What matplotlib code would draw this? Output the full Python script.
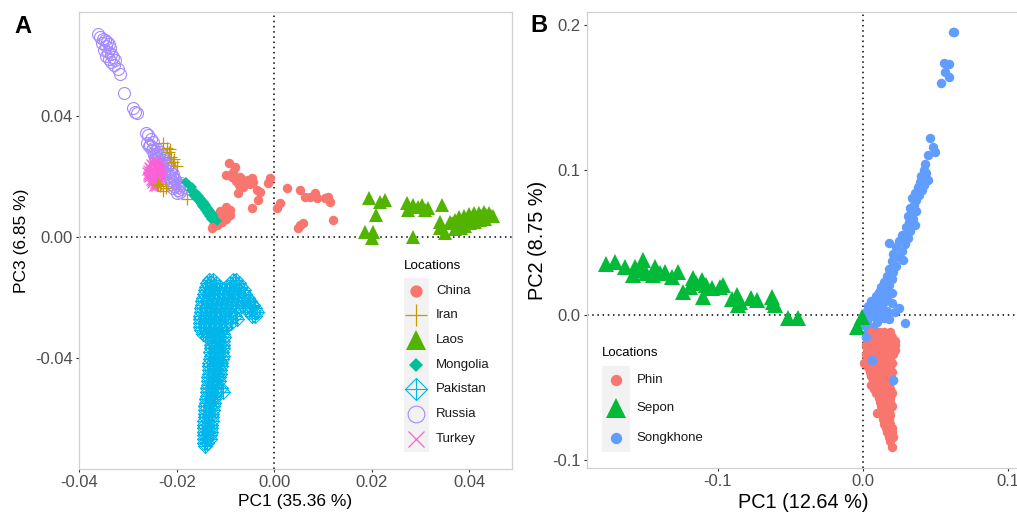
import numpy as np
import matplotlib
matplotlib.use('Agg')
import matplotlib.pyplot as plt
from matplotlib.patches import Rectangle

plt.rcParams['font.family'] = ['Liberation Sans', 'DejaVu Sans']

# ---------------- Panel A data (PC1 vs PC3) ----------------
a_locations = ['China', 'Iran', 'Laos', 'Mongolia', 'Pakistan', 'Russia', 'Turkey']

china_pts = [
    (-0.0094, 0.0245), (-0.0080, 0.0231), (-0.0100, 0.0205), (-0.0086, 0.0198), (-0.0070, 0.0198),
    (-0.0064, 0.0188), (-0.0045, 0.0195), (-0.0043, 0.0182), (-0.0064, 0.0165), (-0.0074, 0.0145),
    (-0.0035, 0.0155), (-0.0029, 0.0149), (-0.0008, 0.0195), (-0.0012, 0.0179), (-0.0033, 0.0122),
    (-0.0045, 0.0096), (0.0027, 0.0162), (0.0053, 0.0155), (0.0064, 0.0132), (0.0074, 0.0132),
    (0.0084, 0.0145), (0.0088, 0.0129), (0.0105, 0.0129), (0.0111, 0.0132), (0.0115, 0.0116),
    (0.0121, 0.0056), (0.0012, 0.0112), (0.0006, 0.0096), (0.0053, 0.0040), (0.0059, 0.0046),
    (0.0049, 0.0030), (-0.0100, 0.0099), (-0.0094, 0.0083), (-0.0090, 0.0073), (-0.0121, 0.0046),
    (-0.0111, 0.0063), (-0.0125, 0.0035), (-0.0118, 0.0040), (-0.0108, 0.0050), (-0.0100, 0.0060),
    (-0.0095, 0.0070), (-0.0105, 0.0075), (-0.0112, 0.0085), (-0.0090, 0.0090), (-0.0127, 0.0030),
    (-0.0085, 0.0215), (-0.0055, 0.0190), (-0.0072, 0.0172), (-0.0050, 0.0175), (-0.0078, 0.0185),
]

iran_pts = [
    (-0.0228, 0.0311), (-0.0221, 0.0294), (-0.0217, 0.0281), (-0.0213, 0.0264), (-0.0207, 0.0248),
    (-0.0199, 0.0235), (-0.0234, 0.0169), (-0.0228, 0.0152), (-0.0223, 0.0162), (-0.0240, 0.0172),
    (-0.0238, 0.0175), (-0.0180, 0.0126), (-0.0215, 0.0290), (-0.0205, 0.0258),
]

laos_pts = [
    (0.0195, 0.0129), (0.0217, 0.0116), (0.0228, 0.0122), (0.0209, 0.0073), (0.0187, 0.0017),
    (0.0203, 0.0017), (0.0201, -0.0003), (0.0273, 0.0112), (0.0285, 0.0106), (0.0303, 0.0106),
    (0.0316, 0.0096), (0.0275, 0.0089), (0.0344, 0.0106), (0.0340, 0.0050), (0.0361, 0.0050),
    (0.0340, 0.0030), (0.0285, 0.0000), (0.0351, 0.0013), (0.0371, 0.0055), (0.0377, 0.0040),
    (0.0380, 0.0065), (0.0386, 0.0050), (0.0390, 0.0070), (0.0395, 0.0055), (0.0400, 0.0075),
    (0.0405, 0.0060), (0.0410, 0.0080), (0.0415, 0.0065), (0.0420, 0.0078), (0.0425, 0.0070),
    (0.0430, 0.0082), (0.0435, 0.0072), (0.0440, 0.0078), (0.0445, 0.0068), (0.0450, 0.0070),
    (0.0383, 0.0030), (0.0392, 0.0038), (0.0402, 0.0045), (0.0412, 0.0050), (0.0422, 0.0055),
    (0.0432, 0.0060), (0.0370, 0.0025), (0.0365, 0.0045), (0.0295, 0.0100), (0.0310, 0.0090),
]

mongolia_pts = [
    (-0.0182, 0.0182), (-0.0176, 0.0172), (-0.0170, 0.0165), (-0.0172, 0.0155), (-0.0165, 0.0150),
    (-0.0160, 0.0145), (-0.0166, 0.0140), (-0.0155, 0.0135), (-0.0160, 0.0128), (-0.0150, 0.0125),
    (-0.0155, 0.0118), (-0.0145, 0.0115), (-0.0150, 0.0108), (-0.0140, 0.0105), (-0.0146, 0.0098),
    (-0.0136, 0.0095), (-0.0142, 0.0088), (-0.0132, 0.0085), (-0.0138, 0.0078), (-0.0128, 0.0078),
    (-0.0134, 0.0070), (-0.0130, 0.0065), (-0.0126, 0.0068), (-0.0122, 0.0058), (-0.0118, 0.0052),
    (-0.0162, 0.0138), (-0.0152, 0.0130), (-0.0157, 0.0122), (-0.0143, 0.0110), (-0.0148, 0.0102),
    (-0.0134, 0.0090), (-0.0139, 0.0083), (-0.0125, 0.0072), (-0.0131, 0.0060), (-0.0124, 0.0062),
]

# Pakistan: rows of (PC3, [PC1 values])
pakistan_rows = [
    (-0.0142, [-0.0134, -0.0126, -0.0084, -0.0078]),
    (-0.0152, [-0.0138, -0.0129, -0.0120, -0.0090, -0.0080, -0.0072]),
    (-0.0164, [-0.0140, -0.0131, -0.0121, -0.0111, -0.0100, -0.0089, -0.0078, -0.0068]),
    (-0.0176, [-0.0142, -0.0133, -0.0123, -0.0113, -0.0103, -0.0093, -0.0082, -0.0072, -0.0063]),
    (-0.0188, [-0.0144, -0.0135, -0.0125, -0.0115, -0.0105, -0.0095, -0.0084, -0.0073, -0.0060]),
    (-0.0200, [-0.0146, -0.0136, -0.0126, -0.0116, -0.0106, -0.0096, -0.0086, -0.0075, -0.0064, -0.0054]),
    (-0.0212, [-0.0148, -0.0138, -0.0128, -0.0118, -0.0108, -0.0098, -0.0088, -0.0077, -0.0066, -0.0055, -0.0049]),
    (-0.0224, [-0.0149, -0.0139, -0.0129, -0.0119, -0.0109, -0.0099, -0.0089, -0.0078, -0.0064, -0.0052, -0.0044]),
    (-0.0236, [-0.0150, -0.0140, -0.0130, -0.0120, -0.0110, -0.0100, -0.0090, -0.0079, -0.0060, -0.0048, -0.0039]),
    (-0.0248, [-0.0151, -0.0141, -0.0131, -0.0121, -0.0111, -0.0101, -0.0091, -0.0080, -0.0052, -0.0042, -0.0036]),
    (-0.0260, [-0.0152, -0.0142, -0.0132, -0.0122, -0.0112, -0.0102, -0.0091, -0.0080, -0.0046, -0.0040]),
    (-0.0272, [-0.0153, -0.0143, -0.0133, -0.0123, -0.0113, -0.0102, -0.0090, -0.0076]),
    (-0.0284, [-0.0153, -0.0143, -0.0133, -0.0123, -0.0112, -0.0100, -0.0088]),
    (-0.0296, [-0.0152, -0.0142, -0.0132, -0.0121, -0.0110, -0.0099]),
    (-0.0308, [-0.0150, -0.0140, -0.0130, -0.0119, -0.0108]),
    (-0.0320, [-0.0146, -0.0136, -0.0126, -0.0116, -0.0106]),
    (-0.0332, [-0.0139, -0.0130, -0.0121, -0.0112, -0.0104]),
    (-0.0344, [-0.0131, -0.0122, -0.0113, -0.0105]),
    (-0.0356, [-0.0130, -0.0121, -0.0112, -0.0105]),
    (-0.0368, [-0.0131, -0.0122, -0.0113, -0.0106]),
    (-0.0380, [-0.0132, -0.0123, -0.0114, -0.0107]),
    (-0.0392, [-0.0131, -0.0122, -0.0113, -0.0106]),
    (-0.0404, [-0.0133, -0.0124, -0.0115, -0.0108]),
    (-0.0416, [-0.0134, -0.0125, -0.0116, -0.0109]),
    (-0.0428, [-0.0134, -0.0125, -0.0116, -0.0110]),
    (-0.0440, [-0.0135, -0.0126, -0.0117, -0.0111]),
    (-0.0452, [-0.0135, -0.0126, -0.0117, -0.0112]),
    (-0.0464, [-0.0136, -0.0127, -0.0118, -0.0113]),
    (-0.0476, [-0.0137, -0.0128, -0.0119, -0.0114]),
    (-0.0488, [-0.0137, -0.0128, -0.0119]),
    (-0.0500, [-0.0138, -0.0129, -0.0120, -0.0110]),
    (-0.0512, [-0.0138, -0.0129, -0.0120, -0.0106]),
    (-0.0524, [-0.0139, -0.0130, -0.0121]),
    (-0.0536, [-0.0140, -0.0131, -0.0123]),
    (-0.0548, [-0.0141, -0.0132, -0.0124]),
    (-0.0560, [-0.0142, -0.0133, -0.0125]),
    (-0.0572, [-0.0142, -0.0134, -0.0126]),
    (-0.0584, [-0.0143, -0.0135, -0.0127]),
    (-0.0596, [-0.0143, -0.0135, -0.0128]),
    (-0.0608, [-0.0144, -0.0136, -0.0128]),
    (-0.0620, [-0.0144, -0.0136, -0.0129]),
    (-0.0632, [-0.0145, -0.0137, -0.0130]),
    (-0.0644, [-0.0145, -0.0137, -0.0131]),
    (-0.0656, [-0.0145, -0.0138, -0.0132]),
    (-0.0668, [-0.0145, -0.0139, -0.0133]),
    (-0.0680, [-0.0144, -0.0138]),
    (-0.0692, [-0.0142]),
]
pakistan_pts = [(x, y) for y, xs in pakistan_rows for x in xs]

russia_pts = [
    (-0.0361, 0.0670), (-0.0357, 0.0662), (-0.0352, 0.0655), (-0.0348, 0.0650), (-0.0344, 0.0645),
    (-0.0354, 0.0640), (-0.0340, 0.0638), (-0.0346, 0.0630), (-0.0338, 0.0625), (-0.0350, 0.0620),
    (-0.0342, 0.0612), (-0.0335, 0.0605), (-0.0345, 0.0600), (-0.0332, 0.0595), (-0.0340, 0.0590),
    (-0.0328, 0.0585), (-0.0336, 0.0578), (-0.0330, 0.0570), (-0.0320, 0.0555), (-0.0316, 0.0540),
    (-0.0308, 0.0476), (-0.0291, 0.0426), (-0.0285, 0.0415), (-0.0281, 0.0410), (-0.0264, 0.0345),
    (-0.0260, 0.0336), (-0.0254, 0.0325), (-0.0250, 0.0315), (-0.0258, 0.0300), (-0.0250, 0.0295),
    (-0.0245, 0.0285), (-0.0240, 0.0290), (-0.0235, 0.0280), (-0.0248, 0.0270), (-0.0238, 0.0265),
    (-0.0230, 0.0270), (-0.0228, 0.0255), (-0.0235, 0.0250), (-0.0222, 0.0245), (-0.0230, 0.0235),
    (-0.0218, 0.0235), (-0.0225, 0.0225), (-0.0212, 0.0225), (-0.0220, 0.0210), (-0.0208, 0.0210),
    (-0.0215, 0.0198), (-0.0205, 0.0195), (-0.0210, 0.0185), (-0.0200, 0.0180), (-0.0205, 0.0170),
    (-0.0195, 0.0165), (-0.0190, 0.0158), (-0.0198, 0.0155), (-0.0189, 0.0172),
    (-0.0262, 0.0310), (-0.0255, 0.0305), (-0.0252, 0.0288), (-0.0243, 0.0275), (-0.0237, 0.0272),
    (-0.0242, 0.0258), (-0.0226, 0.0262), (-0.0232, 0.0244), (-0.0224, 0.0238), (-0.0216, 0.0242),
    (-0.0227, 0.0215), (-0.0214, 0.0218), (-0.0218, 0.0202), (-0.0210, 0.0203), (-0.0203, 0.0188),
    (-0.0212, 0.0176), (-0.0198, 0.0172), (-0.0207, 0.0162), (-0.0193, 0.0150), (-0.0200, 0.0147),
    (-0.0186, 0.0165), (-0.0192, 0.0180), (-0.0215, 0.0190), (-0.0245, 0.0262), (-0.0233, 0.0225),
]

turkey_pts = [
    (-0.0250, 0.0256), (-0.0242, 0.0253),
    (-0.0256, 0.0246), (-0.0248, 0.0243), (-0.0240, 0.0247), (-0.0234, 0.0244),
    (-0.0260, 0.0235), (-0.0252, 0.0237), (-0.0245, 0.0233), (-0.0238, 0.0236), (-0.0232, 0.0234),
    (-0.0262, 0.0226), (-0.0255, 0.0223), (-0.0248, 0.0227), (-0.0241, 0.0224), (-0.0235, 0.0226), (-0.0229, 0.0222),
    (-0.0260, 0.0214), (-0.0253, 0.0217), (-0.0246, 0.0213), (-0.0239, 0.0216), (-0.0233, 0.0214),
    (-0.0262, 0.0206), (-0.0256, 0.0203), (-0.0249, 0.0207), (-0.0242, 0.0204), (-0.0236, 0.0206), (-0.0230, 0.0203),
    (-0.0259, 0.0195), (-0.0252, 0.0197), (-0.0245, 0.0194), (-0.0238, 0.0196), (-0.0232, 0.0193),
    (-0.0256, 0.0186), (-0.0249, 0.0184), (-0.0242, 0.0187), (-0.0236, 0.0185),
    (-0.0253, 0.0176), (-0.0246, 0.0174), (-0.0240, 0.0177),
    (-0.0250, 0.0166), (-0.0244, 0.0164),
    (-0.0246, 0.0250), (-0.0253, 0.0241), (-0.0237, 0.0240), (-0.0257, 0.0230), (-0.0243, 0.0229),
    (-0.0251, 0.0220), (-0.0237, 0.0219), (-0.0264, 0.0218), (-0.0258, 0.0210), (-0.0244, 0.0210),
    (-0.0233, 0.0209), (-0.0252, 0.0201), (-0.0239, 0.0200), (-0.0262, 0.0198), (-0.0247, 0.0190),
    (-0.0234, 0.0189), (-0.0253, 0.0181), (-0.0243, 0.0179), (-0.0248, 0.0170), (-0.0238, 0.0170),
]

# ---------------- Panel B data (PC1 vs PC2) ----------------
b_locations = ['Phin', 'Sepon', 'Songkhone']

# Phin: rows of (PC2, [PC1 values])
phin_rows = [
    (-0.012, [0.006, 0.011, 0.015, 0.019]),
    (-0.015, [0.004, 0.008, 0.012, 0.016, 0.020]),
    (-0.018, [0.003, 0.007, 0.011, 0.015, 0.019, 0.022]),
    (-0.021, [0.002, 0.006, 0.010, 0.014, 0.018, 0.022]),
    (-0.024, [0.003, 0.007, 0.011, 0.015, 0.019, 0.022]),
    (-0.027, [0.002, 0.006, 0.010, 0.014, 0.018, 0.021]),
    (-0.030, [0.003, 0.007, 0.011, 0.015, 0.019]),
    (-0.033, [0.001, 0.005, 0.009, 0.013, 0.017, 0.020]),
    (-0.036, [0.004, 0.008, 0.012, 0.016, 0.019]),
    (-0.039, [0.005, 0.009, 0.013, 0.017, 0.020]),
    (-0.042, [0.006, 0.010, 0.014, 0.018]),
    (-0.045, [0.007, 0.011, 0.015, 0.019]),
    (-0.048, [0.006, 0.010, 0.014, 0.018]),
    (-0.051, [0.008, 0.012, 0.016, 0.019]),
    (-0.054, [0.009, 0.013, 0.017, 0.020]),
    (-0.057, [0.011, 0.015, 0.019]),
    (-0.060, [0.012, 0.016, 0.019]),
    (-0.063, [0.013, 0.017, 0.020]),
    (-0.066, [0.014, 0.018]),
    (-0.0674, [0.0101]),
    (-0.069, [0.015, 0.019]),
    (-0.072, [0.014, 0.018]),
    (-0.075, [0.015, 0.019]),
    (-0.078, [0.016, 0.020]),
    (-0.081, [0.017, 0.020]),
    (-0.084, [0.018, 0.021]),
    (-0.087, [0.019]),
    (-0.091, [0.020]),
]
phin_pts = [(x, y) for y, xs in phin_rows for x in xs]

sepon_pts = [
    (-0.1766, 0.0352), (-0.1708, 0.0368), (-0.1570, 0.0333), (-0.1513, 0.0379), (-0.1582, 0.0276),
    (-0.1490, 0.0288), (-0.1432, 0.0333), (-0.1444, 0.0276), (-0.1363, 0.0299), (-0.1317, 0.0264),
    (-0.1272, 0.0299), (-0.1237, 0.0161), (-0.1168, 0.0253), (-0.1110, 0.0241), (-0.1191, 0.0195),
    (-0.1099, 0.0126), (-0.1041, 0.0184), (-0.0984, 0.0195), (-0.0961, 0.0207), (-0.0869, 0.0138),
    (-0.0846, 0.0092), (-0.0858, 0.0069), (-0.0766, 0.0115), (-0.0731, 0.0103), (-0.0628, 0.0126),
    (-0.0605, 0.0069), (-0.0513, -0.0023), (-0.0444, -0.0023), (-0.0007, -0.0012), (-0.0041, -0.0080),
    (-0.1530, 0.0310), (-0.1400, 0.0290), (-0.1150, 0.0220), (-0.1080, 0.0210), (-0.0900, 0.0110),
    (-0.0620, 0.0090), (-0.1640, 0.0330),
]

songkhone_pts = [
    (0.0625, 0.1954), (0.0632, 0.1954), (0.0561, 0.1736), (0.0595, 0.1731), (0.0568, 0.1678),
    (0.0538, 0.1602), (0.0597, 0.1639), (0.0464, 0.1219), (0.0487, 0.1161), (0.0498, 0.1126),
    (0.0452, 0.1103), (0.0430, 0.1040), (0.0420, 0.1000), (0.0440, 0.0980), (0.0405, 0.0960),
    (0.0450, 0.0930), (0.0395, 0.0920), (0.0420, 0.0900), (0.0380, 0.0880), (0.0410, 0.0860),
    (0.0360, 0.0840), (0.0390, 0.0830), (0.0340, 0.0810), (0.0370, 0.0790), (0.0355, 0.0760),
    (0.0330, 0.0740), (0.0365, 0.0720), (0.0340, 0.0700), (0.0310, 0.0680), (0.0350, 0.0660),
    (0.0320, 0.0640), (0.0360, 0.0620), (0.0300, 0.0610), (0.0330, 0.0580), (0.0270, 0.0550),
    (0.0310, 0.0530), (0.0180, 0.0500), (0.0250, 0.0510), (0.0290, 0.0490), (0.0230, 0.0470),
    (0.0270, 0.0440), (0.0210, 0.0420), (0.0250, 0.0400), (0.0280, 0.0380), (0.0200, 0.0370),
    (0.0230, 0.0340), (0.0180, 0.0320), (0.0210, 0.0300), (0.0170, 0.0270), (0.0200, 0.0250),
    (0.0150, 0.0230), (0.0185, 0.0210), (0.0130, 0.0190), (0.0160, 0.0180), (0.0110, 0.0160),
    (0.0200, 0.0150), (0.0140, 0.0140), (0.0090, 0.0130), (0.0170, 0.0120), (0.0120, 0.0110),
    (0.0060, 0.0100), (0.0150, 0.0090), (0.0100, 0.0080), (0.0200, 0.0080), (0.0040, 0.0060),
    (0.0130, 0.0060), (0.0250, 0.0050), (0.0080, 0.0040), (0.0170, 0.0030), (0.0020, 0.0020),
    (0.0110, 0.0010), (0.0220, 0.0020), (0.0060, -0.0010), (0.0150, -0.0020), (0.0292, -0.0053),
    (0.0030, -0.0040), (0.0100, -0.0050), (0.0180, -0.0030), (0.0010, -0.0070), (0.0070, -0.0080),
    (0.0040, -0.0110), (0.0020, -0.0150), (0.0062, -0.0310), (0.0207, -0.0448),
]

a_xticks = [-0.04, -0.02, 0.00, 0.02, 0.04]
a_yticks = [-0.04, 0.00, 0.04]
b_xticks = [-0.1, 0.0, 0.1]
b_yticks = [-0.1, 0.0, 0.1, 0.2]

# ---------------- Styles ----------------
COL = {'China': '#F8766D', 'Iran': '#C49A00', 'Laos': '#53B400', 'Mongolia': '#00C094',
       'Pakistan': '#00B6EB', 'Russia': '#A58AFF', 'Turkey': '#FB61D7',
       'Phin': '#F8766D', 'Sepon': '#00BA38', 'Songkhone': '#619CFF'}

DPI = 100
fig = plt.figure(figsize=(1017 / DPI, 513 / DPI), dpi=DPI)
axA = fig.add_axes([79 / 1017, 44 / 513, 433 / 1017, 457 / 513])
axB = fig.add_axes([587 / 1017, 45 / 513, 433 / 1017, 456 / 513])


def arr(p):
    a = np.array(p)
    return a[:, 0], a[:, 1]


def draw_group(ax, name, pts, size_scale=1.0, legend=False, xy=None):
    c = COL[name]
    kw = dict(linestyle='none', clip_on=not legend, zorder=3)
    if legend:
        kw['transform'] = ax.transAxes
        x, y = xy
    else:
        x, y = arr(pts)
    s = size_scale
    if name in ('China', 'Phin', 'Songkhone'):
        ax.plot(x, y, 'o', ms=6.8 * s, mfc=c, mec=c, mew=0, **kw)
    elif name == 'Iran':
        ax.plot(x, y, '+', ms=9 * s, color=c, mew=0.9, **kw)
    elif name == 'Laos':
        ax.plot(x, y, '^', ms=10 * s, mfc=c, mec=c, mew=0, **kw)
    elif name == 'Sepon':
        ax.plot(x, y, '^', ms=12 * s, mfc=c, mec=c, mew=0, **kw)
    elif name == 'Mongolia':
        ax.plot(x, y, 'D', ms=5.2 * s, mfc=c, mec=c, mew=0, **kw)
    elif name == 'Pakistan':
        ax.plot(x, y, 'D', ms=7.0 * s, mfc='none', mec=c, mew=0.8, **kw)
        ax.plot(x, y, '+', ms=9.9 * s, color=c, mew=0.8, **kw)
    elif name == 'Russia':
        ax.plot(x, y, 'o', ms=8.6 * s, mfc='none', mec=c, mew=0.8, **kw)
    elif name == 'Turkey':
        ax.plot(x, y, 'x', ms=6.0 * s, color=c, mew=0.9, **kw)


def style_axes(ax, xlim, ylim, xticks, yticks, xfmt, yfmt, xlabel, ylabel, title_fs):
    ax.set_xlim(*xlim)
    ax.set_ylim(*ylim)
    ax.set_xticks(xticks)
    ax.set_yticks(yticks)
    ax.set_xticklabels([xfmt.format(v) for v in xticks])
    ax.set_yticklabels([yfmt.format(v) for v in yticks])
    for sp in ax.spines.values():
        sp.set_color('#D0D0D0')
        sp.set_linewidth(0.9)
    ax.tick_params(axis='both', direction='out', length=2.5, width=0.8, color='#333333',
                   labelsize=12, labelcolor='#4D4D4D', pad=2)
    ax.set_xlabel(xlabel, fontsize=title_fs, color='black', labelpad=3)
    ax.set_ylabel(ylabel, fontsize=title_fs, color='black', labelpad=4)
    ax.axhline(0, color='black', lw=1.1, ls=(0, (1, 2.4)), zorder=1)
    ax.axvline(0, color='black', lw=1.1, ls=(0, (1, 2.4)), zorder=1)


# ---- Panel A ----
style_axes(axA, (-0.0401, 0.0488), (-0.0767, 0.0744), a_xticks, a_yticks,
           '{:.2f}', '{:.2f}', 'PC1 (35.36 %)', 'PC3 (6.85 %)', 12.5)
groupsA = {'China': china_pts, 'Iran': iran_pts, 'Laos': laos_pts, 'Mongolia': mongolia_pts,
           'Pakistan': pakistan_pts, 'Russia': russia_pts, 'Turkey': turkey_pts}
for name in ['China', 'Russia', 'Turkey', 'Iran', 'Mongolia', 'Laos', 'Pakistan']:
    draw_group(axA, name, groupsA[name])

# legend A
axA.text(0.7506, 0.4442, 'Locations', transform=axA.transAxes, fontsize=9.6, va='center', ha='left')
axA.add_patch(Rectangle((0.7506, 0.0372), 0.0577, 0.3807, transform=axA.transAxes,
                        facecolor='#F2F2F2', edgecolor='none', zorder=2))
rowsA = [0.3895, 0.3370, 0.2823, 0.2276, 0.1751, 0.1204, 0.0656]
legend_scaleA = {'China': 1.3, 'Iran': 1.75, 'Laos': 1.5, 'Mongolia': 1.4, 'Pakistan': 1.55,
                 'Russia': 1.4, 'Turkey': 2.0}
for name, ry in zip(a_locations, rowsA):
    draw_group(axA, name, None, size_scale=legend_scaleA[name], legend=True, xy=([0.7794], [ry]))
    axA.text(0.8245, ry, name, transform=axA.transAxes, fontsize=9.5, va='center', ha='left', color='#1A1A1A')

# ---- Panel B ----
style_axes(axB, (-0.190, 0.1085), (-0.1055, 0.209), b_xticks, b_yticks,
           '{:.1f}', '{:.1f}', 'PC1 (12.64 %)', 'PC2 (8.75 %)', 14.3)
groupsB = {'Phin': phin_pts, 'Sepon': sepon_pts, 'Songkhone': songkhone_pts}
for name in ['Songkhone', 'Phin', 'Sepon']:
    draw_group(axB, name, groupsB[name])
# a few Songkhone points lie on top of the Phin cloud
sk_over = [p for p in songkhone_pts if p[1] < -0.012]
sx, sy = arr(sk_over)
axB.plot(sx, sy, 'o', ms=6.8, mfc=COL['Songkhone'], mec=COL['Songkhone'], mew=0, linestyle='none', zorder=3)

axB.text(0.034, 0.2522, 'Locations', transform=axB.transAxes, fontsize=9.5, va='center', ha='left')
axB.add_patch(Rectangle((0.034, 0.0357), 0.0654, 0.188, transform=axB.transAxes,
                        facecolor='#F2F2F2', edgecolor='none', zorder=2))
rowsB = [0.1930, 0.1309, 0.0664]
legend_scaleB = {'Phin': 1.2, 'Sepon': 1.25, 'Songkhone': 1.2}
for name, ry in zip(b_locations, rowsB):
    draw_group(axB, name, None, size_scale=legend_scaleB[name], legend=True, xy=([0.0666], [ry]))
    axB.text(0.1148, ry, name, transform=axB.transAxes, fontsize=9.5, va='center', ha='left', color='#1A1A1A')

# panel letters
fig.text(14 / 1017, 1 - 27 / 513, 'A', fontsize=17, fontweight='bold', va='center', ha='left')
fig.text(530 / 1017, 1 - 25 / 513, 'B', fontsize=17, fontweight='bold', va='center', ha='left')

fig.savefig('out.png', dpi=DPI)
